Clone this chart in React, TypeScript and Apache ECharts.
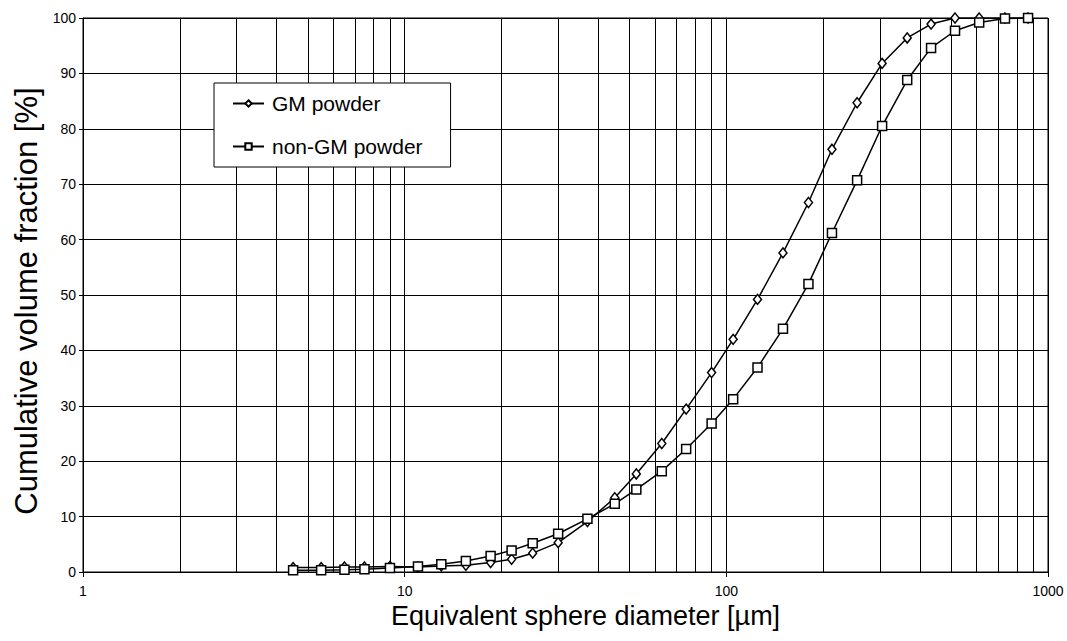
import React, { useEffect, useRef } from "react";
import * as echarts from "echarts";

const diameters = [4.5, 5.5, 6.5, 7.5, 9, 11, 13, 15.5, 18.5, 21.5, 25, 30, 37, 45, 52.5, 63, 75, 90, 105, 125, 150, 180, 213, 255, 305, 365, 433, 514, 611, 735, 867];
const gmPowder = [0.8, 0.8, 0.9, 0.9, 1.0, 0.9, 1.1, 1.2, 1.7, 2.3, 3.4, 5.3, 9.1, 13.4, 17.7, 23.2, 29.4, 36.0, 42.0, 49.2, 57.6, 66.7, 76.3, 84.7, 91.8, 96.4, 98.9, 100, 100, 100, 100];
const nonGmPowder = [0.3, 0.3, 0.4, 0.5, 0.7, 1.0, 1.4, 2.0, 2.9, 3.9, 5.2, 6.9, 9.6, 12.3, 14.9, 18.2, 22.2, 26.8, 31.2, 36.9, 43.9, 52.0, 61.2, 70.7, 80.5, 88.8, 94.6, 97.7, 99.2, 99.9, 100];
const minorGridValues = [2, 3, 4, 5, 6, 7, 8, 9, 20, 30, 40, 50, 60, 70, 80, 90, 200, 300, 400, 500, 600, 700, 800, 900];
const seriesNames = ["GM powder", "non-GM powder"];
const xTitle = "Equivalent sphere diameter [µm]";
const yTitle = "Cumulative volume fraction [%]";

const FONT = "'Liberation Sans', Arial, Helvetica, sans-serif";

export default function App() {
  const ref = useRef<HTMLDivElement>(null);
  useEffect(() => {
    if (!ref.current) return;
    const chart = echarts.init(ref.current, null, { renderer: "svg" });
    const pts = (ys: number[]) => diameters.map((d, i) => [d, ys[i]]);
    chart.setOption({
      animation: false,
      backgroundColor: "#fff",
      textStyle: { fontFamily: FONT, color: "#000" },
      grid: { left: 83, right: 19, top: 18, bottom: 69, show: true, borderColor: "#000", borderWidth: 1, backgroundColor: "transparent" },
      legend: {
        left: 214,
        top: 83,
        orient: "vertical",
        backgroundColor: "#fff",
        borderColor: "#000",
        borderWidth: 1,
        padding: [10, 28, 10, 18],
        itemGap: 22,
        itemWidth: 31,
        itemHeight: 8,
        selectedMode: false,
        textStyle: { fontFamily: FONT, fontSize: 21, color: "#000", padding: [0, 0, 0, 3] },
        data: seriesNames,
      },
      xAxis: {
        type: "log",
        logBase: 10,
        min: 1,
        max: 1000,
        name: xTitle,
        nameLocation: "middle",
        nameGap: 30,
        nameTextStyle: { fontFamily: FONT, fontSize: 27, color: "#000", padding: [0, 0, 0, 40] },
        axisLine: { show: true, lineStyle: { color: "#000", width: 1 } },
        axisTick: { show: true, length: 5, inside: false, lineStyle: { color: "#000" } },
        axisLabel: { fontFamily: FONT, fontSize: 14, color: "#000", margin: 12, formatter: (v: number) => String(v) },
        splitLine: { show: true, lineStyle: { color: "#000", width: 1 } },
        minorTick: { show: false },
      },
      yAxis: {
        type: "value",
        min: 0,
        max: 100,
        interval: 10,
        name: yTitle,
        nameLocation: "middle",
        nameGap: 40,
        nameTextStyle: { fontFamily: FONT, fontSize: 31, color: "#000", padding: [0, 12, 0, 0] },
        axisLine: { show: true, lineStyle: { color: "#000", width: 1 } },
        axisTick: { show: true, length: 4, inside: false, lineStyle: { color: "#000" } },
        axisLabel: { fontFamily: FONT, fontSize: 14, color: "#000", margin: 7 },
        splitLine: { show: true, lineStyle: { color: "#000", width: 1 } },
      },
      series: [
        {
          name: seriesNames[0],
          type: "line",
          data: pts(gmPowder),
          symbol: "diamond",
          symbolSize: [8, 10],
          showAllSymbol: true,
          lineStyle: { color: "#000", width: 1.5 },
          itemStyle: { color: "#fff", borderColor: "#000", borderWidth: 1.5 },
          z: 3,
          markLine: {
            silent: true,
            symbol: ["none", "none"],
            label: { show: false },
            emphasis: { disabled: true },
            lineStyle: { color: "#000", width: 1, type: "solid" },
            data: minorGridValues.map((v) => ({ xAxis: v })),
            z: 1,
          },
        },
        {
          name: seriesNames[1],
          type: "line",
          data: pts(nonGmPowder),
          symbol: "rect",
          symbolSize: 9,
          showAllSymbol: true,
          lineStyle: { color: "#000", width: 1.5 },
          itemStyle: { color: "#fff", borderColor: "#000", borderWidth: 1.5 },
          z: 4,
        },
      ],
    });
    return () => chart.dispose();
  }, []);
  return <div ref={ref} style={{ width: 1067, height: 641, position: "absolute", left: 0, top: 0 }} />;
}
